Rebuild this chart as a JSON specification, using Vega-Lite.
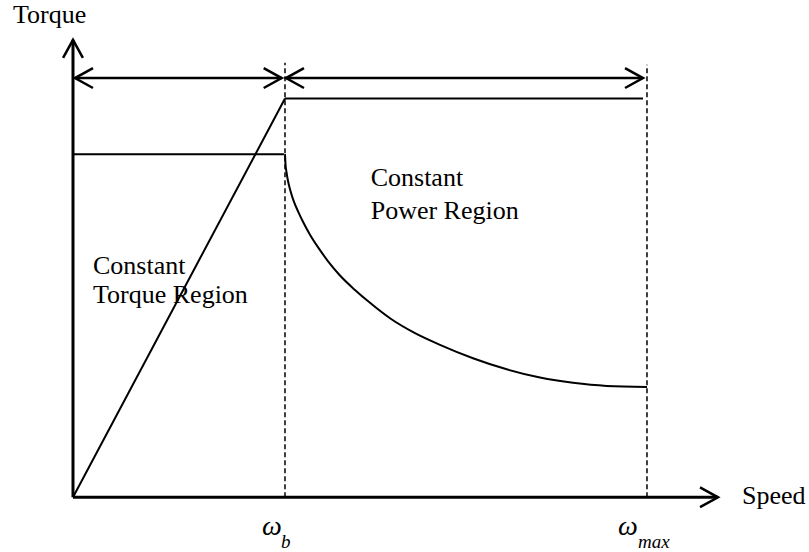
{
  "$schema": "https://vega.github.io/schema/vega-lite/v6.json",
  "width": 809,
  "height": 552,
  "autosize": {"type": "fit", "contains": "padding"},
  "padding": 0,
  "background": "white",
  "config": {"view": {"stroke": null}, "text": {"font": "Times New Roman"}},
  "datasets": {
    "axes": [
      {"id": "y", "k": 0, "s": 0, "t": 0},
      {"id": "y", "k": 1, "s": 0, "t": 1.3333},
      {"id": "x", "k": 0, "s": 0, "t": 0},
      {"id": "x", "k": 1, "s": 3.0425, "t": 0}
    ],
    "curves": [
      {"id": "ramp", "k": 0, "s": 0, "t": 0},
      {"id": "ramp", "k": 1, "s": 1.0, "t": 1.1623},
      {"id": "power", "k": 0, "s": 1.0, "t": 1.1623},
      {"id": "power", "k": 1, "s": 2.6887, "t": 1.1623},
      {"id": "flat", "k": 0, "s": 0, "t": 1.0},
      {"id": "flat", "k": 1, "s": 0.995, "t": 1.0}
    ],
    "torque": [
      {"k": 0, "s": 1.0, "t": 1.0},
      {"k": 1, "s": 1.0024, "t": 0.971},
      {"k": 2, "s": 1.0071, "t": 0.9478},
      {"k": 3, "s": 1.0142, "t": 0.9217},
      {"k": 4, "s": 1.0259, "t": 0.8928},
      {"k": 5, "s": 1.0425, "t": 0.8609},
      {"k": 6, "s": 1.0637, "t": 0.8304},
      {"k": 7, "s": 1.0873, "t": 0.8},
      {"k": 8, "s": 1.1179, "t": 0.7652},
      {"k": 9, "s": 1.1571, "t": 0.7275},
      {"k": 10, "s": 1.2042, "t": 0.687},
      {"k": 11, "s": 1.2594, "t": 0.6464},
      {"k": 12, "s": 1.3302, "t": 0.6043},
      {"k": 13, "s": 1.4009, "t": 0.5667},
      {"k": 14, "s": 1.4953, "t": 0.5217},
      {"k": 15, "s": 1.6132, "t": 0.4783},
      {"k": 16, "s": 1.7311, "t": 0.4443},
      {"k": 17, "s": 1.8868, "t": 0.4052},
      {"k": 18, "s": 2.0458, "t": 0.373},
      {"k": 19, "s": 2.2028, "t": 0.349},
      {"k": 20, "s": 2.3585, "t": 0.3336},
      {"k": 21, "s": 2.5175, "t": 0.3246},
      {"k": 22, "s": 2.7075, "t": 0.3217}
    ],
    "dashed": [
      {"id": "wb", "k": 0, "s": 1.0, "t": 0},
      {"id": "wb", "k": 1, "s": 1.0, "t": 1.2667},
      {"id": "wmax", "k": 0, "s": 2.7075, "t": 0},
      {"id": "wmax", "k": 1, "s": 2.7075, "t": 1.2609}
    ],
    "shafts": [
      {"id": "a1", "k": 0, "s": 0.0094, "t": 1.2217},
      {"id": "a1", "k": 1, "s": 0.9844, "t": 1.2217},
      {"id": "a2", "k": 0, "s": 1.0047, "t": 1.2217},
      {"id": "a2", "k": 1, "s": 2.6887, "t": 1.2217}
    ],
    "headsRight": [
      {"s": 3.0425, "t": 0},
      {"s": 0.9844, "t": 1.2217},
      {"s": 2.6887, "t": 1.2217}
    ],
    "headsLeft": [
      {"s": 0.0094, "t": 1.2217},
      {"s": 1.0047, "t": 1.2217}
    ],
    "headsUp": [
      {"s": 0, "t": 1.3333}
    ],
    "labels": [
      {"text": "Torque", "s": -0.283, "t": 1.3812},
      {"text": "Speed", "s": 3.1557, "t": -0.0194},
      {"text": "Constant", "s": 1.4042, "t": 0.9072},
      {"text": "Power Region", "s": 1.4042, "t": 0.8116},
      {"text": "Constant", "s": 0.0943, "t": 0.6522},
      {"text": "Torque Region", "s": 0.0943, "t": 0.5652}
    ],
    "omegas": [
      {"text": "ω", "s": 0.8915, "t": -0.1101},
      {"text": "ω", "s": 2.5708, "t": -0.1101}
    ],
    "subs": [
      {"text": "b", "s": 0.981, "t": -0.1478},
      {"text": "max", "s": 2.6651, "t": -0.1478}
    ]
  },
  "layer": [
    {
      "data": {"name": "axes"},
      "mark": {"type": "line", "color": "black", "strokeWidth": 3, "strokeCap": "butt"},
      "encoding": {
        "x": {"field": "s", "type": "quantitative", "scale": {"domain": [-0.3443, 3.4717], "nice": false, "zero": false}, "axis": null},
        "y": {"field": "t", "type": "quantitative", "scale": {"domain": [-0.1507, 1.4493], "nice": false, "zero": false}, "axis": null},
        "detail": {"field": "id"},
        "order": {"field": "k"}
      }
    },
    {
      "data": {"name": "curves"},
      "mark": {"type": "line", "color": "black", "strokeWidth": 2},
      "encoding": {
        "x": {"field": "s", "type": "quantitative", "scale": {"domain": [-0.3443, 3.4717], "nice": false, "zero": false}, "axis": null},
        "y": {"field": "t", "type": "quantitative", "scale": {"domain": [-0.1507, 1.4493], "nice": false, "zero": false}, "axis": null},
        "detail": {"field": "id"},
        "order": {"field": "k"}
      }
    },
    {
      "data": {"name": "torque"},
      "mark": {"type": "line", "color": "black", "strokeWidth": 2, "interpolate": "monotone"},
      "encoding": {
        "x": {"field": "s", "type": "quantitative", "scale": {"domain": [-0.3443, 3.4717], "nice": false, "zero": false}, "axis": null},
        "y": {"field": "t", "type": "quantitative", "scale": {"domain": [-0.1507, 1.4493], "nice": false, "zero": false}, "axis": null},
        "order": {"field": "k"}
      }
    },
    {
      "data": {"name": "dashed"},
      "mark": {"type": "line", "color": "black", "strokeWidth": 1.5, "strokeDash": [5, 3]},
      "encoding": {
        "x": {"field": "s", "type": "quantitative", "scale": {"domain": [-0.3443, 3.4717], "nice": false, "zero": false}, "axis": null},
        "y": {"field": "t", "type": "quantitative", "scale": {"domain": [-0.1507, 1.4493], "nice": false, "zero": false}, "axis": null},
        "detail": {"field": "id"},
        "order": {"field": "k"}
      }
    },
    {
      "data": {"name": "shafts"},
      "mark": {"type": "line", "color": "black", "strokeWidth": 2.5},
      "encoding": {
        "x": {"field": "s", "type": "quantitative", "scale": {"domain": [-0.3443, 3.4717], "nice": false, "zero": false}, "axis": null},
        "y": {"field": "t", "type": "quantitative", "scale": {"domain": [-0.1507, 1.4493], "nice": false, "zero": false}, "axis": null},
        "detail": {"field": "id"},
        "order": {"field": "k"}
      }
    },
    {
      "data": {"name": "headsRight"},
      "mark": {"type": "point", "shape": "M-1,-0.55L0,0L-1,0.55", "size": 1296, "filled": false, "color": "black", "strokeWidth": 2.5, "opacity": 1, "angle": 0},
      "encoding": {
        "x": {"field": "s", "type": "quantitative", "scale": {"domain": [-0.3443, 3.4717], "nice": false, "zero": false}, "axis": null},
        "y": {"field": "t", "type": "quantitative", "scale": {"domain": [-0.1507, 1.4493], "nice": false, "zero": false}, "axis": null}
      }
    },
    {
      "data": {"name": "headsLeft"},
      "mark": {"type": "point", "shape": "M-1,-0.55L0,0L-1,0.55", "size": 1296, "filled": false, "color": "black", "strokeWidth": 2.5, "opacity": 1, "angle": 180},
      "encoding": {
        "x": {"field": "s", "type": "quantitative", "scale": {"domain": [-0.3443, 3.4717], "nice": false, "zero": false}, "axis": null},
        "y": {"field": "t", "type": "quantitative", "scale": {"domain": [-0.1507, 1.4493], "nice": false, "zero": false}, "axis": null}
      }
    },
    {
      "data": {"name": "headsUp"},
      "mark": {"type": "point", "shape": "M-1,-0.55L0,0L-1,0.55", "size": 1296, "filled": false, "color": "black", "strokeWidth": 2.5, "opacity": 1, "angle": 270},
      "encoding": {
        "x": {"field": "s", "type": "quantitative", "scale": {"domain": [-0.3443, 3.4717], "nice": false, "zero": false}, "axis": null},
        "y": {"field": "t", "type": "quantitative", "scale": {"domain": [-0.1507, 1.4493], "nice": false, "zero": false}, "axis": null}
      }
    },
    {
      "data": {"name": "labels"},
      "mark": {"type": "text", "font": "Times New Roman", "fontSize": 26, "align": "left", "baseline": "alphabetic", "color": "black"},
      "encoding": {
        "x": {"field": "s", "type": "quantitative", "scale": {"domain": [-0.3443, 3.4717], "nice": false, "zero": false}, "axis": null},
        "y": {"field": "t", "type": "quantitative", "scale": {"domain": [-0.1507, 1.4493], "nice": false, "zero": false}, "axis": null},
        "text": {"field": "text"}
      }
    },
    {
      "data": {"name": "omegas"},
      "mark": {"type": "text", "font": "Times New Roman", "fontSize": 28, "fontStyle": "italic", "align": "left", "baseline": "alphabetic", "color": "black"},
      "encoding": {
        "x": {"field": "s", "type": "quantitative", "scale": {"domain": [-0.3443, 3.4717], "nice": false, "zero": false}, "axis": null},
        "y": {"field": "t", "type": "quantitative", "scale": {"domain": [-0.1507, 1.4493], "nice": false, "zero": false}, "axis": null},
        "text": {"field": "text"}
      }
    },
    {
      "data": {"name": "subs"},
      "mark": {"type": "text", "font": "Times New Roman", "fontSize": 19, "fontStyle": "italic", "align": "left", "baseline": "alphabetic", "color": "black"},
      "encoding": {
        "x": {"field": "s", "type": "quantitative", "scale": {"domain": [-0.3443, 3.4717], "nice": false, "zero": false}, "axis": null},
        "y": {"field": "t", "type": "quantitative", "scale": {"domain": [-0.1507, 1.4493], "nice": false, "zero": false}, "axis": null},
        "text": {"field": "text"}
      }
    }
  ]
}
